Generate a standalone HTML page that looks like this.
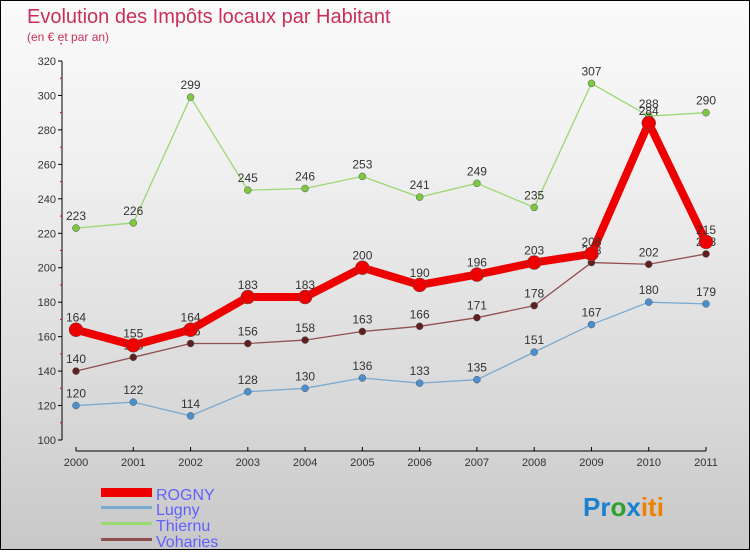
<!DOCTYPE html>
<html><head><meta charset="utf-8"><style>
body{margin:0;width:750px;height:550px;overflow:hidden;font-family:"Liberation Sans",sans-serif}
#wrap{position:relative;width:748px;height:548px;border:1px solid #000;background:linear-gradient(#fafafa,#f0f0f0 30%,#d8d8d8 75%,#c8c8c8)}
</style></head><body>
<div id="wrap">
<svg id="svg" width="748" height="548">
<text x="26" y="22" font-size="20" fill="#c8305a">Evolution des Impôts locaux par Habitant</text>
<text x="26" y="40" font-size="12" fill="#c8305a">(en € et par an)</text>
<g id="axes"></g><g id="series"></g>
<g>
<rect x="100" y="487" width="51" height="9" fill="#e00"/>
<text x="155" y="499" font-size="16" fill="#6060ff">ROGNY</text>
<rect x="100" y="505" width="51" height="3" fill="#7aaad0"/>
<text x="155" y="514" font-size="16" fill="#6060ff">Lugny</text>
<rect x="100" y="521" width="51" height="3" fill="#9ad870"/>
<text x="155" y="530" font-size="16" fill="#6060ff">Thiernu</text>
<rect x="100" y="537" width="51" height="3" fill="#905050"/>
<text x="155" y="546" font-size="16" fill="#6060ff">Voharies</text>
</g>
<text x="582" y="515" font-size="26" font-weight="bold"><tspan fill="#1a80d0">Pr</tspan><tspan fill="#30a030">o</tspan><tspan fill="#1a80d0">x</tspan><tspan fill="#f08000">iti</tspan></text>
</svg></div>
<script>
const years=["2000","2001","2002","2003","2004","2005","2006","2007","2008","2009","2010","2011"];
const yTicks=[100,120,140,160,180,200,220,240,260,280,300,320];
const rogny=[164,155,164,183,183,200,190,196,203,208,284,215];
const lugny=[120,122,114,128,130,136,133,135,151,167,180,179];
const thiernu=[223,226,299,245,246,253,241,249,235,307,288,290];
const voharies=[140,148,156,156,158,163,166,171,178,203,202,208];
const NS="http://www.w3.org/2000/svg";
function X(i){return 75+i*(630/11);}
function Y(v){return 439-(v-100)*(379/220);}
function mk(t,a,p){const e=document.createElementNS(NS,t);for(const k in a)e.setAttribute(k,a[k]);p.appendChild(e);return e;}
const ax=document.getElementById('axes');
const yl=mk('line',{x1:61,y1:Y(320),x2:61,y2:Y(100),stroke:'#000'},ax);


const xl=mk('line',{x1:X(0),y1:450,x2:X(11),y2:450,stroke:'#000'},ax);


yTicks.forEach(v=>{
 mk('line',{x1:57,x2:61,y1:Y(v),y2:Y(v),stroke:'#000'},ax);
 mk('line',{x1:59,x2:61,y1:Y(v+10),y2:Y(v+10),stroke:'#e00'},ax);
 const t=mk('text',{x:55,y:Y(v)+4,'font-size':11,'text-anchor':'end',fill:'#333'},ax);t.textContent=v;
 
 
});
years.forEach((y,i)=>{
 mk('line',{x1:X(i),x2:X(i),y1:446,y2:450,stroke:'#000'},ax);
 const t=mk('text',{x:X(i),y:465,'font-size':11,'text-anchor':'middle',fill:'#333'},ax);t.textContent=y;
 
 
});
const sg=document.getElementById('series');
function draw(name,data,color,w,r,dot){
 const g=mk('g',{},sg);
 
 
 mk('polyline',{points:data.map((v,i)=>X(i)+','+Y(v)).join(' '),fill:'none',stroke:color,'stroke-width':w,'stroke-linejoin':'round'},g);
 data.forEach((v,i)=>{
  const c=mk('circle',{cx:X(i),cy:Y(v),r:r,fill:dot,stroke:'#555','stroke-width':0.5},g);
  
  
  const t=mk('text',{x:X(i),y:Y(v)-8,'font-size':12,'text-anchor':'middle',fill:'#333'},g);t.textContent=v;
  
  
 });
}
draw('thiernu',thiernu,'#9ad870',1.3,3.5,'#7cc840');
draw('lugny',lugny,'#7aaad0',1.3,3.5,'#4a90d0');
draw('voharies',voharies,'#905050',1.3,3.5,'#602020');
draw('rogny',rogny,'#e00',8,7,'#e00');
</script>
</body></html>
